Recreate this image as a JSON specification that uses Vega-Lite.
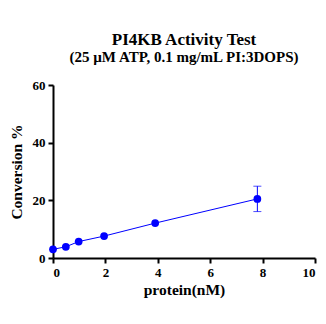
{
  "$schema": "https://vega.github.io/schema/vega-lite/v6.json",
  "width": 262,
  "height": 173,
  "autosize": {"type": "none"},
  "padding": {"left": 53, "top": 85, "right": 11, "bottom": 66},
  "background": "white",
  "title": {
    "text": "PI4KB Activity Test",
    "subtitle": "(25 µM ATP, 0.1 mg/mL PI:3DOPS)",
    "font": "Liberation Serif",
    "subtitleFont": "Liberation Serif",
    "fontSize": 17,
    "subtitleFontSize": 15,
    "fontWeight": "bold",
    "subtitleFontWeight": "bold",
    "color": "black",
    "subtitleColor": "black",
    "anchor": "middle",
    "offset": 13,
    "subtitlePadding": 1
  },
  "config": {
    "view": {"stroke": null},
    "axis": {
      "labelFont": "Liberation Serif",
      "titleFont": "Liberation Serif",
      "labelFontWeight": "bold",
      "titleFontWeight": "bold",
      "labelFontSize": 13,
      "titleFontSize": 15.5,
      "labelColor": "black",
      "titleColor": "black",
      "domainColor": "black",
      "tickColor": "black",
      "domainWidth": 2,
      "tickWidth": 2,
      "tickSize": 5,
      "grid": false
    }
  },
  "data": {
    "values": [
      {"protein": 0, "conv": 3.0, "lo": 3.0, "hi": 3.0},
      {"protein": 0.49, "conv": 3.9, "lo": 3.9, "hi": 3.9},
      {"protein": 0.98, "conv": 5.7, "lo": 5.7, "hi": 5.7},
      {"protein": 1.95, "conv": 7.6, "lo": 7.6, "hi": 7.6},
      {"protein": 3.9, "conv": 12.1, "lo": 12.1, "hi": 12.1},
      {"protein": 7.8, "conv": 20.5, "lo": 16.1, "hi": 24.9}
    ]
  },
  "encoding": {
    "x": {
      "field": "protein",
      "type": "quantitative",
      "scale": {"domain": [0, 10], "nice": false},
      "axis": {"values": [0, 2, 4, 6, 8, 10], "title": "protein(nM)", "titlePadding": 3, "labelPadding": 3}
    }
  },
  "layer": [
    {
      "mark": {"type": "line", "color": "#0000ff", "strokeWidth": 1},
      "encoding": {
        "y": {
          "field": "conv",
          "type": "quantitative",
          "scale": {"domain": [0, 60], "nice": false},
          "axis": {"values": [0, 20, 40, 60], "title": "Conversion %", "titlePadding": 8, "labelPadding": 3}
        }
      }
    },
    {
      "transform": [{"filter": "datum.hi > datum.lo"}],
      "mark": {"type": "rule", "color": "#0000ff", "strokeWidth": 1},
      "encoding": {
        "y": {"field": "lo", "type": "quantitative"},
        "y2": {"field": "hi"}
      }
    },
    {
      "transform": [{"filter": "datum.hi > datum.lo"}],
      "mark": {"type": "tick", "color": "#0000ff", "orient": "horizontal", "size": 8, "thickness": 1},
      "encoding": {"y": {"field": "lo", "type": "quantitative"}}
    },
    {
      "transform": [{"filter": "datum.hi > datum.lo"}],
      "mark": {"type": "tick", "color": "#0000ff", "orient": "horizontal", "size": 8, "thickness": 1},
      "encoding": {"y": {"field": "hi", "type": "quantitative"}}
    },
    {
      "mark": {"type": "point", "filled": true, "color": "#0000ff", "opacity": 1, "size": 60},
      "encoding": {"y": {"field": "conv", "type": "quantitative"}}
    }
  ]
}
